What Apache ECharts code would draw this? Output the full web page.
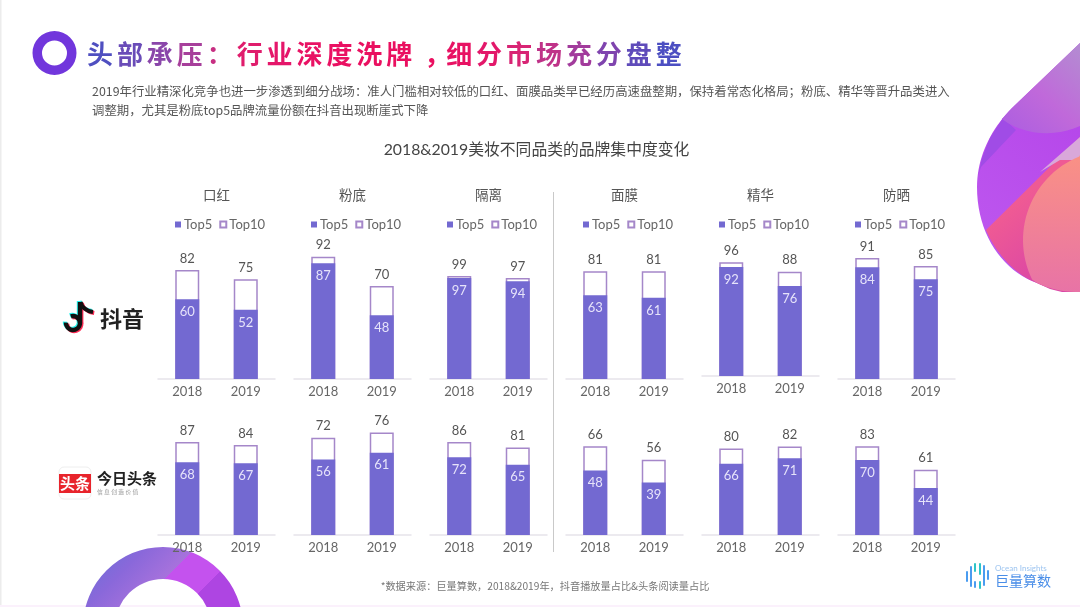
<!DOCTYPE html>
<html><head><meta charset="utf-8">
<style>html,body{margin:0;padding:0;background:#fff}#c{width:1080px;height:607px}</style>
<script src="https://cdn.jsdelivr.net/npm/echarts@6/dist/echarts.min.js"></script>
</head><body><div id="c"></div>
<script>
const categories = ['口红','粉底','隔离','面膜','精华','防晒'];
const years = ['2018','2019'];
const seriesNames = ['Top5','Top10'];
const douyinTop5  = [[60,52],[87,48],[97,94],[63,61],[92,76],[84,75]];
const douyinTop10 = [[82,75],[92,70],[99,97],[81,81],[96,88],[91,85]];
const toutiaoTop5  = [[68,67],[56,61],[72,65],[48,39],[66,71],[70,44]];
const toutiaoTop10 = [[87,84],[72,76],[86,81],[66,56],[80,82],[83,61]];
const titleText = '头部承压：行业深度洗牌，细分市场充分盘整';
const titleColors = ['#4f4fc0','#6a4cb8','#8a46aa','#a73f9b','#c72f82','#e01c6c','#e5166a','#e91264','#ea1062','#ea1060','#ea1060','#ea1060','#e81263','#e3186a','#d82474','#bf3288','#a23b9c','#7f44ae','#5f4bba','#4c4fc2'];
const introLines = ['2019年行业精深化竞争也进一步渗透到细分战场：准人门槛相对较低的口红、面膜品类早已经历高速盘整期，保持着常态化格局；粉底、精华等晋升品类进入','调整期，尤其是粉底top5品牌流量份额在抖音出现断崖式下降'];
const chartTitle = '2018&2019美妆不同品类的品牌集中度变化';
const footnote = '*数据来源：巨量算数，2018&2019年，抖音播放量占比&头条阅读量占比';

const FONT = 'Lato,"Noto Sans CJK SC",sans-serif';
const CJK = '"Noto Sans CJK SC",sans-serif';
const panelLeft = [158,294,430,566,702,838];
const panelW = 117;
const rows = [
  {top5:douyinTop5, top10:douyinTop10, base:[379,379,379,379,376,379], px:[1.33,1.33,1.04,1.33,1.185,1.33]},
  {top5:toutiaoTop5, top10:toutiaoTop10, base:[535,535,535,535,535,535], px:[1.07,1.35,1.08,1.345,1.08,1.07]}
];

const grid=[],xAxis=[],yAxis=[],series=[],legend=[],title=[];
title.push({text:chartTitle,left:531.5,top:137,textAlign:'center',textStyle:{fontFamily:FONT,fontSize:15.8,fontWeight:'normal',color:'#444'}});
categories.forEach((c,i)=>{
  title.push({text:c,left:panelLeft[i]+53.5,top:184,textAlign:'center',textStyle:{fontFamily:FONT,fontSize:13.5,fontWeight:'normal',color:'#555'}});
  legend.push({data:seriesNames,icon:'rect',left:panelLeft[i]+12,top:213,itemWidth:6,itemHeight:6,itemGap:7,selectedMode:false,
    textStyle:{fontFamily:FONT,fontSize:13,color:'#666',padding:[0,0,0,-2]}});
});
rows.forEach(r=>{
  categories.forEach((c,i)=>{
    const idx=grid.length, h=r.px[i]*100;
    grid.push({left:panelLeft[i],width:panelW,top:r.base[i]-h,height:h});
    xAxis.push({type:'category',gridIndex:idx,data:years,axisTick:{show:false},
      axisLine:{lineStyle:{color:'#e6e4ea',width:1.5}},
      axisLabel:{fontFamily:FONT,fontSize:13,color:'#666',margin:6}});
    yAxis.push({type:'value',gridIndex:idx,min:0,max:100,show:false,splitLine:{show:false}});
    series.push({name:'Top10',type:'bar',xAxisIndex:idx,yAxisIndex:idx,data:r.top10[i],barWidth:24,barGap:'-100%',
      itemStyle:{color:'#fff',borderColor:'#a587c9',borderWidth:1.5},
      label:{show:true,position:'top',distance:5,fontFamily:FONT,fontSize:13,color:'#555'}});
    series.push({name:'Top5',type:'bar',xAxisIndex:idx,yAxisIndex:idx,data:r.top5[i],barWidth:24,barGap:'-100%',
      itemStyle:{color:'#7369d1'},
      label:{show:true,position:'insideTop',distance:6,fontFamily:FONT,fontSize:13,color:'#e6e3fa'}});
  });
});

/* decoration helpers */
function cubic(p0,c1,c2,p3,n){const o=[];for(let k=0;k<=n;k++){const t=k/n,u=1-t;
  o.push([u*u*u*p0[0]+3*u*u*t*c1[0]+3*u*t*t*c2[0]+t*t*t*p3[0],u*u*u*p0[1]+3*u*u*t*c1[1]+3*u*t*t*c2[1]+t*t*t*p3[1]]);}return o;}
function arc(cx,cy,r,a0,a1,n){const o=[];for(let k=0;k<=n;k++){const a=(a0+(a1-a0)*k/n)*Math.PI/180;o.push([cx+r*Math.cos(a),cy+r*Math.sin(a)]);}return o;}
function lin(x,y,x2,y2,stops){return {type:'linear',x,y,x2,y2,global:true,colorStops:stops};}
const edgeA=cubic([1012,108],[990,130],[977,158],[977,187],20);
const edgeB=cubic([977,187],[977,235],[1003,271],[1037,283],20);
const edgeC=cubic([1037,283],[1050,289],[1062,292],[1080,292],12);
const blobPts=[[1080,43]].concat(edgeA,edgeB,edgeC);

const g=[];
g.push({type:'rect',shape:{x:0,y:0,width:1.5,height:607},style:{fill:'#ececec'},z:-5});
g.push({type:'rect',shape:{x:0,y:605,width:1080,height:2},style:{fill:'#fbf1fc'},z:-5});
/* header ring */
g.push({type:'ring',shape:{cx:54.5,cy:53,r:22,r0:12.5},style:{fill:'#7136dc'}});
/* title */
[...titleText].forEach((ch,i)=>{
  g.push({type:'text',x:100+i*29.93+(ch==='，'?8:0),y:54,style:{text:ch,fill:titleColors[i],
    font:'bold 26px '+CJK,textAlign:'center',textVerticalAlign:'middle'}});
});
introLines.forEach((t,i)=>g.push({type:'text',x:92,y:91+i*19.5,style:{text:t,fill:'#555',font:'12.4px '+CJK,textVerticalAlign:'middle'}}));
g.push({type:'text',x:545,y:586,style:{text:footnote,fill:'#777',font:'10.2px '+CJK,textAlign:'center',textVerticalAlign:'middle'}});
/* divider */
g.push({type:'line',shape:{x1:553.5,y1:192,x2:553.5,y2:552},style:{stroke:'#c9c9c9',lineWidth:1}});
/* right blob */
g.push({type:'polygon',shape:{points:blobPts},z:-4,style:{fill:lin(985,230,1080,130,[{offset:0,color:'#bc55ee'},{offset:1,color:'#b648ea'}])}});
g.push({type:'polygon',shape:{points:[[1003,118],[1016,130],[981,167],[978,176],[982,158],[990,138]]},z:-4,style:{fill:'#a04ce6'}});
g.push({type:'polygon',shape:{points:[[1080,43],[1012,108],[1002,119]].concat(cubic([1002,119],[1025,136],[1055,137],[1080,126],12))},z:-4,
  style:{fill:lin(1010,130,1080,50,[{offset:0,color:'#ae5fe0'},{offset:0.45,color:'#c069da'},{offset:1,color:'#b48ad2'}])}});
g.push({type:'polygon',shape:{points:[[986,230],[1080,137],[1080,292],[1062,292],[1050,289],[1037,283]].concat(cubic([1037,283],[1017,276],[996,254],[986,230],8))},z:-4,
  style:{fill:lin(990,225,1040,285,[{offset:0,color:'#ef5a94'},{offset:1,color:'#da46a6'}])}});
g.push({type:'polygon',shape:{points:[[1040,172],[1080,137],[1080,160],[1060,160]]},z:-4,style:{fill:'#d9a8da'}});
const salmon=arc(1113,240,90,248,154,30).concat(edgeC);
salmon.push([1080,155]);
g.push({type:'polygon',shape:{points:salmon},z:-4,style:{fill:lin(1050,160,1050,292,[{offset:0,color:'#f99086'},{offset:1,color:'#e873a6'}])}});
/* bottom donut */
g.push({type:'ring',shape:{cx:163,cy:627,r:80,r0:48},z:-4,style:{fill:{type:'linear',x:83,y:547,x2:243,y2:707,global:true,colorStops:[
  {offset:0.02,color:'#6570d8'},{offset:0.2,color:'#8a68da'},{offset:0.355,color:'#a772dc'},{offset:0.356,color:'#c452ee'},
  {offset:0.505,color:'#c452ee'},{offset:0.506,color:'#ae45e2'},{offset:1,color:'#ae45e2'}]}}});
/* TikTok mark */
[['#25f4ee',-1,-1],['#fe2c55',1.2,1],['#111',0,0]].forEach(([col,dx,dy])=>{
  g.push({type:'arc',shape:{cx:73+dx,cy:323+dy,r:7,startAngle:-Math.PI*0.6,endAngle:Math.PI*1.02,clockwise:true},style:{stroke:col,fill:null,lineWidth:4.4}});
  g.push({type:'line',shape:{x1:80+dx,y1:302+dy,x2:80+dx,y2:323+dy},style:{stroke:col,lineWidth:4.4}});
  g.push({type:'bezierCurve',shape:{x1:80.5+dx,y1:302+dy,cpx1:82+dx,cpy1:308+dy,cpx2:87+dx,cpy2:311+dy,x2:93+dx,y2:312+dy},style:{stroke:col,fill:null,lineWidth:4}});
});
g.push({type:'text',x:100,y:319,style:{text:'抖音',fill:'#222',font:'bold 22px '+CJK,textVerticalAlign:'middle'}});
/* Toutiao mark */
g.push({type:'rect',shape:{x:59,y:467,width:32,height:32,r:5},style:{fill:'#fff',stroke:'#eee',lineWidth:1}});
g.push({type:'rect',shape:{x:59,y:474,width:32,height:19},style:{fill:'#e8242c'}});
g.push({type:'text',x:75,y:483.5,style:{text:'头条',fill:'#fff',font:'bold 15px '+CJK,textAlign:'center',textVerticalAlign:'middle'}});
g.push({type:'text',x:97,y:478,style:{text:'今日头条',fill:'#222',font:'bold 15px '+CJK,textVerticalAlign:'middle'}});
g.push({type:'text',x:97,y:492,style:{text:'信 息 创 造 价 值',fill:'#999',font:'5.8px '+CJK,textVerticalAlign:'middle'}});
/* Ocean Insights mark */
[[967,572,581,'#4a9cf0'],[971,567,586,'#4a9cf0'],[975,564,571,'#2ec4c8'],[975,582,587,'#4a9cf0'],[980,564,574,'#2ec4c8'],[980,582,588,'#2ec4c8'],[984,566,585,'#4a9cf0'],[988,571,579,'#4a9cf0']]
.forEach(([x,y1,y2,col])=>g.push({type:'line',shape:{x1:x,y1,x2:x,y2},style:{stroke:col,lineWidth:2,lineCap:'round'}}));
g.push({type:'text',x:995,y:568,style:{text:'Ocean Insights',fill:'#9cc4f0',font:'8px '+FONT,textVerticalAlign:'middle'}});
g.push({type:'text',x:995,y:581,style:{text:'巨量算数',fill:'#4a8ee8',font:'14px '+CJK,textVerticalAlign:'middle'}});

const chart=echarts.init(document.getElementById('c'),null,{renderer:'canvas',width:1080,height:607});
chart.setOption({animation:false,backgroundColor:'#fff',title,legend,grid,xAxis,yAxis,series,graphic:{elements:g}});
</script></body></html>
